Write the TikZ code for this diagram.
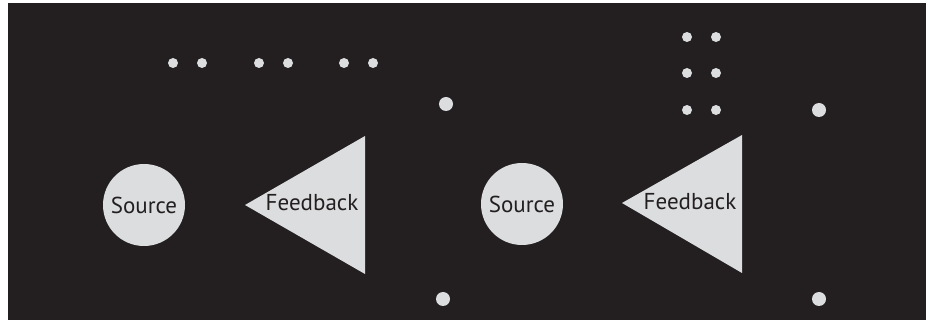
\documentclass[tikz,border=0pt]{standalone}
\usepackage{fontspec}
\setmainfont{PT Sans}
\definecolor{bg}{HTML}{231F20}
\definecolor{fg}{HTML}{DCDDDF}
\begin{document}
\begin{tikzpicture}[x=1pt,y=-1pt,
  dot/.style={circle,fill=fg,inner sep=0pt,minimum size=10pt},
  bigdot/.style={circle,fill=fg,inner sep=0pt,minimum size=14pt},
  src/.style={circle,fill=fg,inner sep=0pt,minimum size=82pt,font=\fontsize{23}{26}\selectfont,text=bg},
  tri/.style={fill=fg},
  lbl/.style={font=\fontsize{23}{26}\selectfont,text=bg,inner sep=0pt}]
\useasboundingbox (0,0) rectangle (930,320);
\fill[white] (0,0) rectangle (930,320);
\fill[bg] (8,3) rectangle (926,320);
% left group
\node[src] (s1) at (144,205) {Source};
\coordinate (t1a) at (245,205);
\coordinate (t1b) at (365,136);
\coordinate (t1c) at (365,274);
\fill[tri] (t1a) -- (t1b) -- (t1c) -- cycle;
\node[lbl] (f1) at (312,203) {Feedback};
% right group
\node[src] (s2) at (522,204) {Source};
\coordinate (t2a) at (622,203);
\coordinate (t2b) at (742,135);
\coordinate (t2c) at (742,273);
\fill[tri] (t2a) -- (t2b) -- (t2c) -- cycle;
\node[lbl] (f2) at (690,202) {Feedback};
% dot row
\foreach \x [count=\i] in {173,202,259,288,344,373}
  \node[dot] (r\i) at (\x,63) {};
% dot columns
\foreach \y [count=\i] in {37,73,110}{
  \node[dot] (ca\i) at (687,\y) {};
  \node[dot] (cb\i) at (716,\y) {};
}
% big dots
\node[bigdot] (b1) at (446,104) {};
\node[bigdot] (b2) at (443,299) {};
\node[bigdot] (b3) at (819,110) {};
\node[bigdot] (b4) at (819,299) {};
\end{tikzpicture}
\end{document}
